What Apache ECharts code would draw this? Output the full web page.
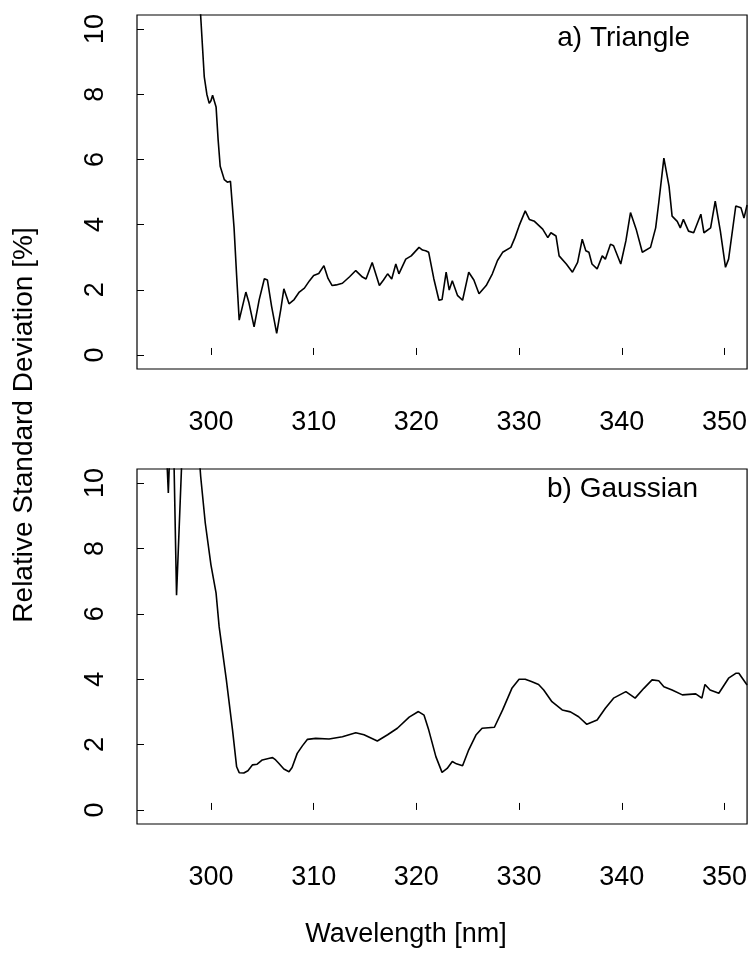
<!DOCTYPE html>
<html>
<head>
<meta charset="utf-8">
<script src="https://cdn.jsdelivr.net/npm/echarts@6/dist/echarts.min.js"></script>
<style>
html,body{margin:0;padding:0;background:#fff;}
#chart{width:750px;height:953px;}
</style>
</head>
<body>
<div id="chart"></div>
<script>
// ---- data ----
const xTicks = [300, 310, 320, 330, 340, 350];
const yTicks = [0, 2, 4, 6, 8, 10];
const panelLabels = ['a) Triangle', 'b) Gaussian'];

const triWavelength = [298.9,299.0,299.35,299.6,299.83,300.0,300.16,300.5,300.7,300.9,301.3,301.6,301.9,302.0,302.25,302.5,302.75,303.0,303.4,303.7,304.2,304.7,305.2,305.5,305.9,306.4,306.8,307.1,307.6,308.1,308.6,309.1,309.6,310.0,310.5,311.0,311.4,311.8,312.2,312.8,313.5,314.1,314.75,315.1,315.7,316.4,316.8,317.2,317.6,318.0,318.3,318.97,319.5,320.26,320.6,320.9,321.2,321.7,322.2,322.5,322.9,323.2,323.5,324.0,324.5,325.1,325.6,326.1,326.8,327.4,327.9,328.4,329.2,329.6,330.0,330.6,331.0,331.5,332.3,332.8,333.1,333.6,333.9,334.6,335.2,335.7,336.15,336.5,336.8,337.1,337.6,338.1,338.4,338.9,339.2,339.9,340.4,340.85,341.4,342.0,342.8,343.3,343.6,344.1,344.6,344.9,345.4,345.7,346.0,346.5,347.0,347.7,348.0,348.65,349.1,349.6,350.1,350.4,351.1,351.6,351.9,352.2];
const triRsd = [11.0,10.4,8.53,8.0,7.72,7.8,7.97,7.61,6.6,5.79,5.38,5.3,5.33,5.38,3.9,2.44,1.07,1.4,1.93,1.6,0.86,1.7,2.34,2.3,1.5,0.66,1.4,2.03,1.57,1.7,1.93,2.05,2.28,2.44,2.5,2.74,2.35,2.13,2.15,2.2,2.4,2.59,2.39,2.33,2.84,2.13,2.3,2.49,2.33,2.79,2.49,2.94,3.04,3.3,3.22,3.2,3.15,2.34,1.68,1.7,2.54,1.99,2.28,1.83,1.68,2.54,2.3,1.88,2.13,2.49,2.9,3.15,3.3,3.6,3.96,4.42,4.16,4.1,3.86,3.6,3.75,3.65,3.04,2.79,2.54,2.84,3.55,3.2,3.15,2.79,2.64,3.04,2.94,3.4,3.35,2.79,3.5,4.37,3.86,3.15,3.3,3.9,4.67,6.04,5.18,4.26,4.1,3.9,4.16,3.8,3.75,4.32,3.75,3.9,4.72,3.8,2.69,2.94,4.57,4.52,4.2,4.6];

const gauWavelength = [295.6,295.85,296.05,296.35,296.65,297.2,297.8,298.4,298.7,299.0,299.45,300.0,300.5,300.8,301.5,302.1,302.5,302.75,303.2,303.6,304.05,304.5,305.0,305.7,306.0,306.3,306.6,307.1,307.6,307.9,308.4,308.9,309.4,310.2,311.5,312.8,314.1,314.9,316.2,317.2,318.15,319.3,320.2,320.75,321.2,321.9,322.5,323.0,323.5,323.9,324.5,325.1,325.8,326.4,327.6,328.4,329.3,330.0,330.6,331.2,331.9,332.4,333.2,334.2,335.0,335.8,336.6,337.6,338.4,339.2,340.4,341.3,342.15,342.95,343.6,344.1,344.9,345.9,347.2,347.8,348.1,348.6,349.45,350.4,351.1,351.4,352.2];
const gauRsd = [11.5,9.7,11.5,11.5,6.57,11.0,12.0,12.0,11.5,10.2,8.77,7.5,6.63,5.6,3.98,2.45,1.32,1.14,1.13,1.2,1.38,1.4,1.53,1.58,1.6,1.53,1.43,1.25,1.17,1.3,1.73,1.96,2.16,2.19,2.17,2.24,2.36,2.3,2.11,2.3,2.5,2.84,3.01,2.9,2.45,1.63,1.15,1.27,1.48,1.41,1.35,1.84,2.29,2.5,2.53,3.06,3.72,4.0,4.0,3.93,3.84,3.67,3.31,3.06,3.0,2.85,2.62,2.75,3.11,3.42,3.62,3.42,3.72,3.98,3.95,3.77,3.67,3.52,3.55,3.42,3.84,3.67,3.57,4.03,4.18,4.18,3.82];

// ---- chart ----
const FONT = 'Liberation Sans, Arial, Helvetica, sans-serif';
const zip = (xs, ys) => xs.map((x, i) => [x, ys[i]]);

const grids = [
  {left: 137, top: 15, width: 611, height: 354},
  {left: 137, top: 469, width: 611, height: 355}
];

function xAxis(idx) {
  return {
    type: 'value', gridIndex: idx, min: 292.8, max: 352.2,
    axisLine: {show: false},
    splitLine: {show: false},
    axisTick: {show: true, inside: true, length: 7, customValues: xTicks, lineStyle: {color: '#000', width: 1}},
    axisLabel: {customValues: xTicks, color: '#000', fontSize: 27, fontFamily: FONT, margin: 40}
  };
}
function yAxis(idx) {
  return {
    type: 'value', gridIndex: idx, min: -0.43, max: 10.43,
    axisLine: {show: false},
    splitLine: {show: false},
    axisTick: {show: true, inside: true, length: 7, customValues: yTicks, lineStyle: {color: '#000', width: 1}},
    axisLabel: {customValues: yTicks, color: '#000', fontSize: 27, fontFamily: FONT, rotate: 90, margin: 28}
  };
}

const chart = echarts.init(document.getElementById('chart'), null, {renderer: 'canvas'});
chart.setOption({
  animation: false,
  backgroundColor: '#fff',
  grid: grids.map(g => Object.assign({show: true, borderColor: '#000', borderWidth: 1.2, backgroundColor: 'transparent'}, g)),
  xAxis: [xAxis(0), xAxis(1)],
  yAxis: [yAxis(0), yAxis(1)],
  series: [
    {type: 'line', xAxisIndex: 0, yAxisIndex: 0, data: zip(triWavelength, triRsd), showSymbol: false, symbol: 'none', clip: true,
     lineStyle: {color: '#000', width: 1.6}},
    {type: 'line', xAxisIndex: 1, yAxisIndex: 1, data: zip(gauWavelength, gauRsd), showSymbol: false, symbol: 'none', clip: true,
     lineStyle: {color: '#000', width: 1.6}}
  ],
  graphic: [
    {type: 'text', x: 690, y: 38, style: {text: panelLabels[0], fill: '#000', font: '28px ' + FONT, align: 'right', verticalAlign: 'middle'}},
    {type: 'text', x: 698, y: 489, style: {text: panelLabels[1], fill: '#000', font: '28px ' + FONT, align: 'right', verticalAlign: 'middle'}},
    {type: 'text', x: 406, y: 935, style: {text: 'Wavelength [nm]', fill: '#000', font: '27px ' + FONT, align: 'center', verticalAlign: 'middle'}},
    {type: 'text', x: 24, y: 425, rotation: Math.PI / 2, style: {text: 'Relative Standard Deviation [%]', fill: '#000', font: '28px ' + FONT, align: 'center', verticalAlign: 'middle'}}
  ]
});
</script>
</body>
</html>
